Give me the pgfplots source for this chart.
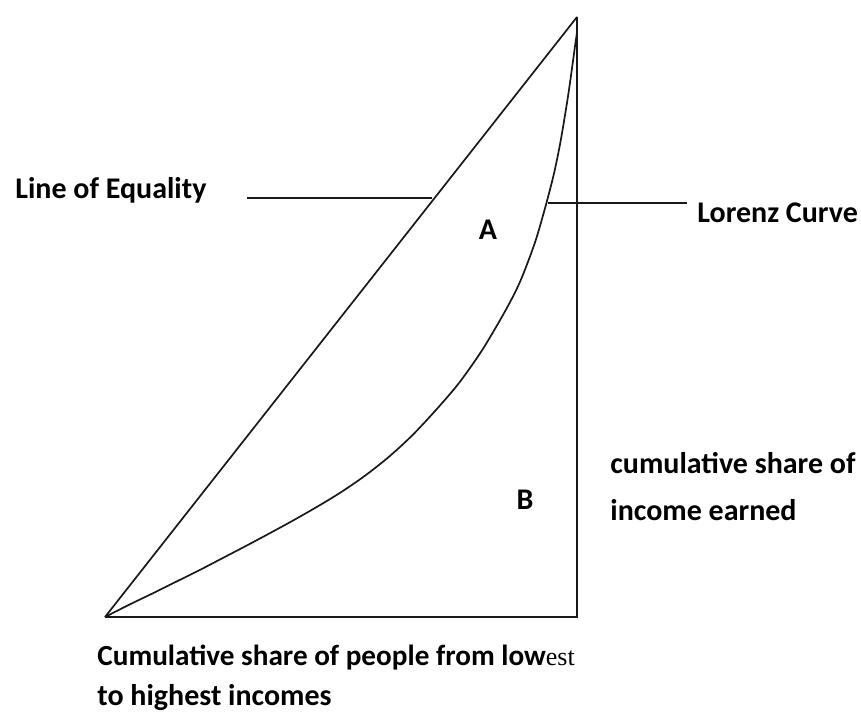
\documentclass[border=0pt]{standalone}
\usepackage{pgfplots}
\pgfplotsset{compat=1.18}
\usepackage{fontspec}
\setmainfont{Carlito}
\newfontfamily\serifest{Liberation Serif}
\begin{document}
\begin{tikzpicture}
\useasboundingbox (0,0) rectangle (430.5pt,358.5pt);
\begin{axis}[
  at={(52.5pt,50pt)}, anchor=south west,
  x=2.36pt, y=3pt,
  xmin=0, xmax=100, ymin=0, ymax=100,
  hide axis, clip=false,
]
% frame: bottom and right sides
\addplot[black!90, line width=0.85pt] coordinates {(0,0) (100,0) (100,100)};
% line of equality
\addplot[black!90, line width=0.85pt] coordinates {(0,0) (100,100)};
% Lorenz curve
\addplot[black!90, line width=0.85pt, smooth] coordinates {
(0,0) (5,2.0) (10,3.9) (15,5.85) (20,7.8) (25,9.85) (30,11.9) (35,14.0)
(40,16.15) (45,18.4) (50,20.8) (55,23.5) (60,26.6) (65,30.2) (70,34.4)
(75,39.0) (80,44.6) (85,51.3) (88,56.0) (91,62.2) (93,67.5) (95,73.5)
(96.5,79.2) (98,86.3) (99,91.8) (99.6,95.3) (100,97.6) (100,100)};
% pointer lines
\addplot[black!90, line width=0.85pt] coordinates {(30.1,69.8) (69.3,69.8)};
\addplot[black!90, line width=0.85pt] coordinates {(93.9,69.0) (123.3,69.0)};
\end{axis}
\begin{scope}[every node/.style={inner sep=0pt, font=\fontsize{15pt}{18pt}\selectfont\bfseries}]
\node[anchor=base west] at (7.5pt,259pt) {Line of Equality};
\node[anchor=base west] at (348.5pt,247pt) {Lorenz Curve};
\node[anchor=base] at (244pt,238.5pt) {A};
\node[anchor=base] at (262.5pt,103.5pt) {B};
\node[anchor=base west] at (305pt,121.5pt) {cumulative share of};
\node[anchor=base west] at (305pt,98pt) {income earned};
\node[anchor=base west, font=\fontsize{14.6pt}{18pt}\selectfont\bfseries] at (48.5pt,26pt) {Cumulative share of people from low{\mdseries\serifest\fontsize{13pt}{15pt}\selectfont est}};
\node[anchor=base west] at (48.5pt,6pt) {to highest incomes};
\end{scope}
\end{tikzpicture}
\end{document}
